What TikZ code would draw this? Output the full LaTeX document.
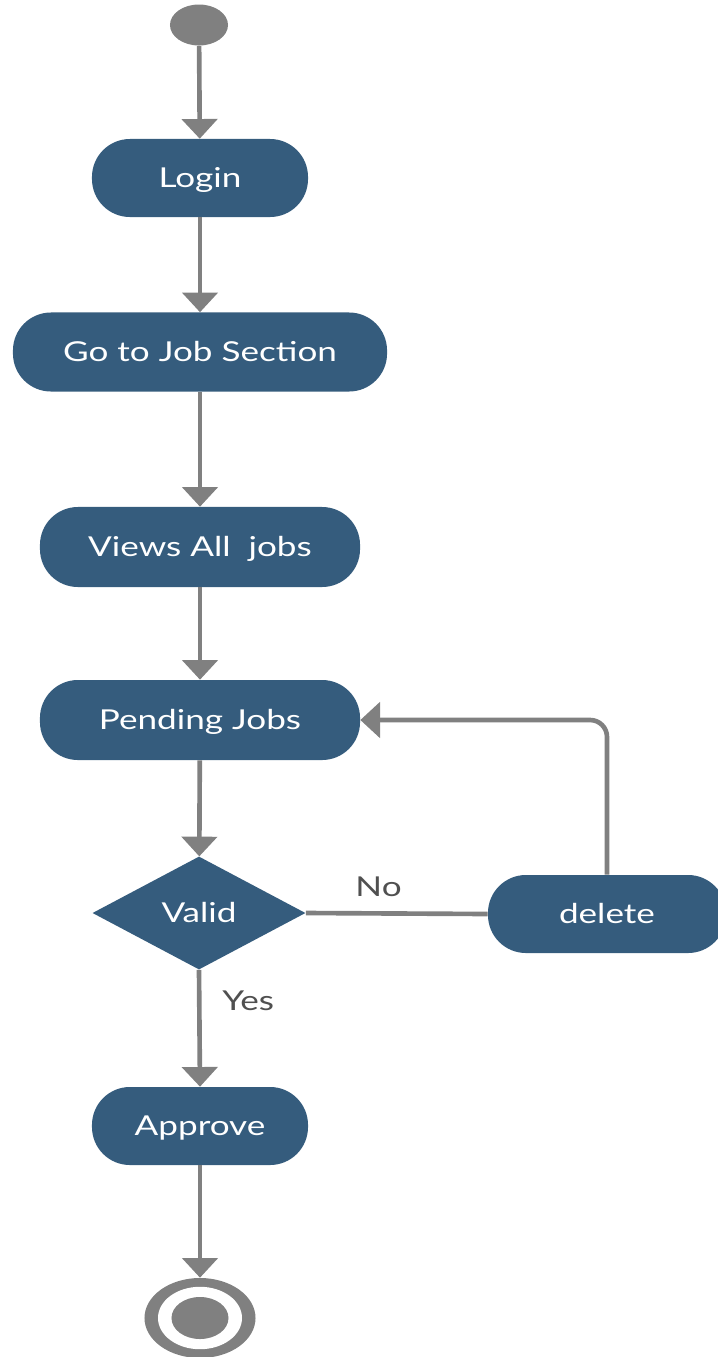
\documentclass[tikz,border=0pt]{standalone}
\usepackage{fontspec}
\setmainfont{Lato}[FakeStretch=1.28]
\usetikzlibrary{arrows.meta,shapes.geometric}
\definecolor{boxblue}{RGB}{53,92,125}
\definecolor{linegray}{RGB}{128,128,128}
\definecolor{labelgray}{RGB}{80,80,80}
\tikzset{
	activity/.style={rectangle, rounded corners=27pt, fill=boxblue, text=white, inner sep=0pt, text height=14pt, text depth=0pt, minimum height=1.95cm, font=\fontsize{19.5}{23}\selectfont},
	decision/.style={diamond, fill=boxblue, text=white, inner sep=0pt, text height=14pt, text depth=0pt, minimum width=5.325cm, minimum height=2.825cm, font=\fontsize{19.5}{23}\selectfont},
	flow/.style={draw=linegray, line width=3.3pt, -{Triangle[width=25pt,length=14pt]}},
	plain/.style={draw=linegray, line width=3.3pt},
	guard/.style={text=labelgray, text height=14pt, text depth=0pt, font=\fontsize{19.5}{23}\selectfont}
}

\begin{document}
\begin{tikzpicture}[x=0.025cm, y=-0.025cm]
			%%%%% START %%%%%
			\useasboundingbox (0, 0) rectangle (718, 1357);
			
			\node[ellipse, fill=linegray, inner sep=0pt, minimum width=1.45cm, minimum height=1.025cm] (start) at (199, 25) {};
			
			\node[activity, minimum width=5.4cm] (login) at (200, 178) {Login};
			\node[activity, minimum width=9.35cm, minimum height=1.975cm] (jobsection) at (200, 352) {Go to Job Section};
			\node[activity, minimum width=8cm, minimum height=2cm] (viewall) at (200, 547) {Views All~~jobs};
			\node[activity, minimum width=8cm, minimum height=2cm] (pending) at (200, 720) {Pending Jobs};
			\node[decision] (valid) at (199, 913) {Valid};
			\node[activity, minimum width=5.95cm] (delete) at (607, 914) {delete};
			\node[activity, minimum width=5.4cm] (approve) at (200, 1126) {Approve};
			
			\node[ellipse, fill=linegray, inner sep=0pt, minimum width=2.775cm, minimum height=2cm] (end) at (200, 1318) {};
			\fill[white] (end.center) ellipse [x radius=1.05cm, y radius=0.78cm];
			\fill[linegray] (end.center) ellipse [x radius=0.7125cm, y radius=0.525cm];
			
			\draw[flow] (start) -- (login);
			\draw[flow] (login) -- (jobsection);
			\draw[flow] (jobsection) -- (viewall);
			\draw[flow] (viewall) -- (pending);
			\draw[flow] (pending) -- (valid);
			\draw[plain] (valid.east) -- node[guard, pos=0.4, yshift=0.675cm] {No} (delete.west);
			\draw[flow, rounded corners=12pt] (delete.north) |- (pending.east);
			\draw[flow] (valid.south) -- node[guard, pos=0.26, xshift=1.225cm] {Yes} (approve.north);
			\draw[flow] (approve) -- (end);
			
			%%%%% END %%%%%
\end{tikzpicture}
\end{document}
